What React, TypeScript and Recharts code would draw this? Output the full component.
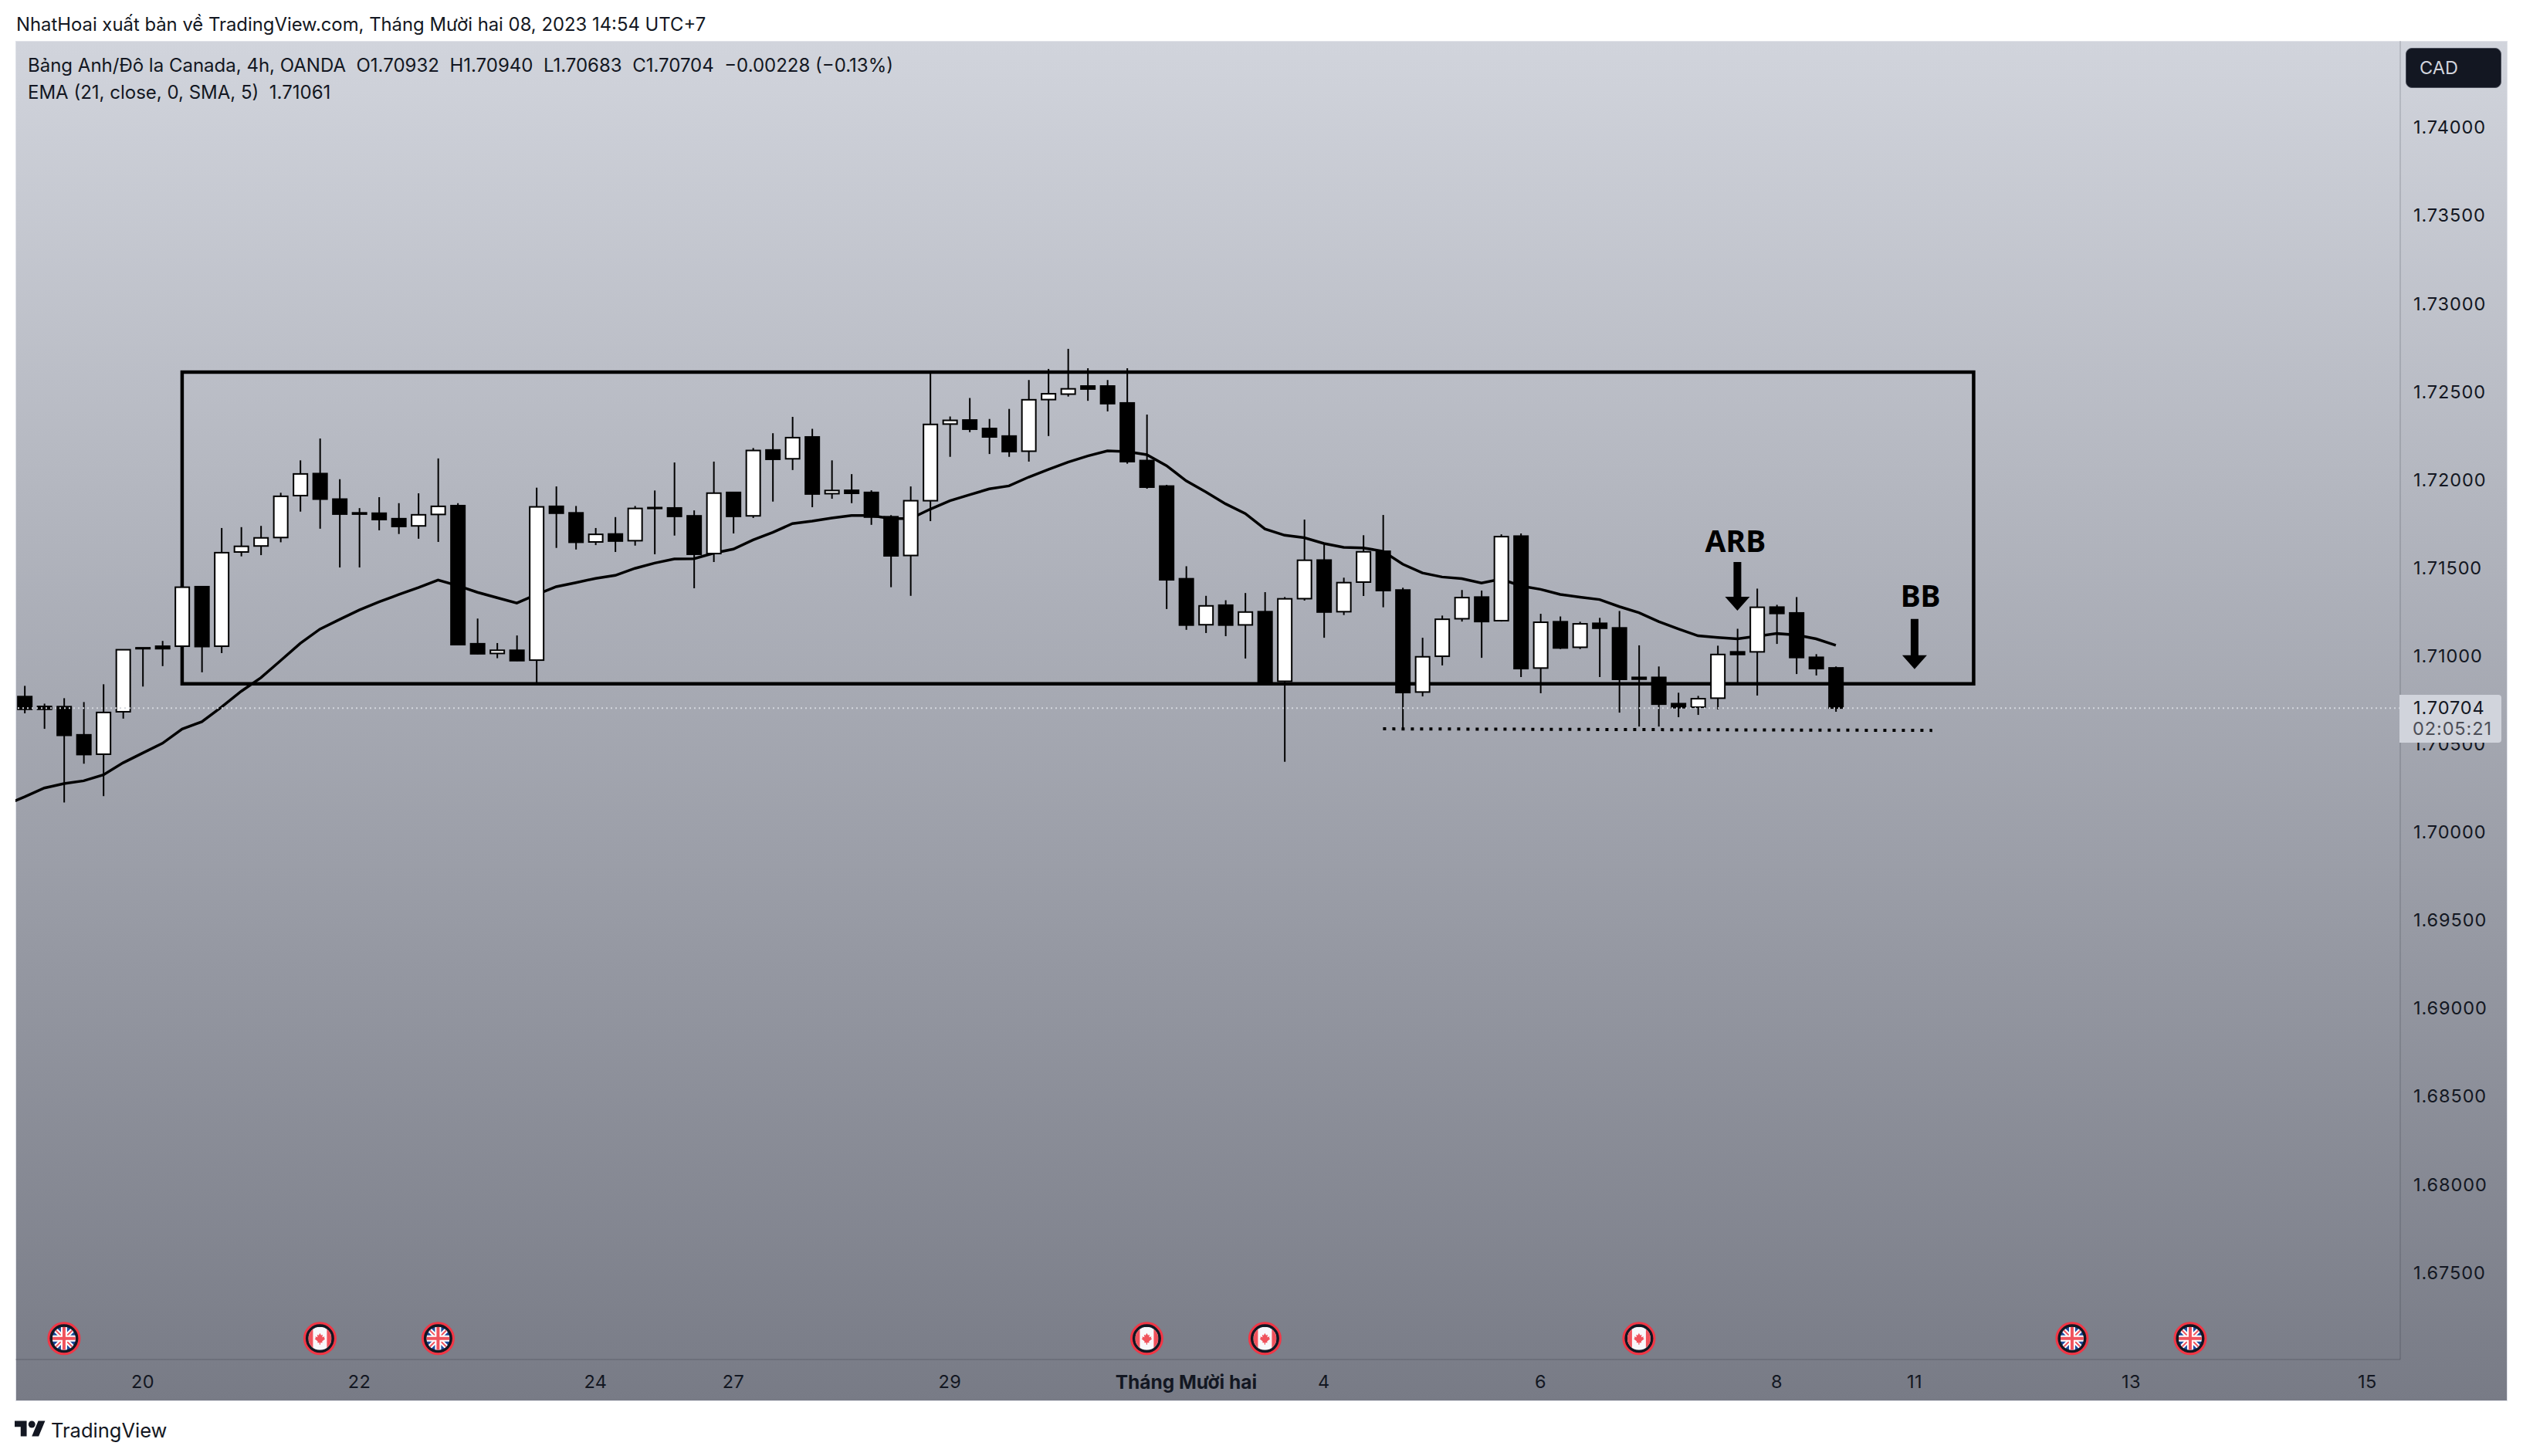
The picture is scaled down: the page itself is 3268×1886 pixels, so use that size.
import React from 'react'
import {
  ComposedChart, Bar, Line, XAxis, YAxis, ReferenceArea, ReferenceLine, ReferenceDot,
} from 'recharts'

const FONT = 'Inter, "Noto Sans", sans-serif'
const INK = '#131722'
const RULE = 'rgba(19,23,34,0.13)'

const opens = [
  1.70769, 1.70713, 1.70712, 1.70552, 1.70442, 1.70683, 1.71046, 1.71055, 1.71055, 1.71393,
  1.71055, 1.71590, 1.71624, 1.71672, 1.71910, 1.72035, 1.71890, 1.71812, 1.71810, 1.71779,
  1.71738, 1.71803, 1.71853, 1.71069, 1.71014, 1.71032, 1.70976, 1.71849, 1.71812, 1.71647,
  1.71692, 1.71654, 1.71842, 1.71840, 1.71795, 1.71581, 1.71928, 1.71795, 1.72169, 1.72119,
  1.72243, 1.71921, 1.71940, 1.71928, 1.71790, 1.71570, 1.71881, 1.72316, 1.72339, 1.72291,
  1.72248, 1.72162, 1.72455, 1.72486, 1.72532, 1.72532, 1.72436, 1.72109, 1.71964, 1.71438,
  1.71177, 1.71288, 1.71176, 1.71251, 1.70856, 1.71325, 1.71544, 1.71251, 1.71419, 1.71594,
  1.71374, 1.70795, 1.70998, 1.71211, 1.71334, 1.71200, 1.71680, 1.70931, 1.71194, 1.71049,
  1.71185, 1.71159, 1.70878, 1.70878, 1.70729, 1.70709, 1.70760, 1.71023, 1.71023, 1.71277,
  1.71244, 1.70992, 1.70932,
]
const highs = [
  1.70830, 1.70729, 1.70760, 1.70738, 1.70839, 1.71037, 1.71046, 1.71085, 1.71391, 1.71393,
  1.71726, 1.71731, 1.71738, 1.71926, 1.72110, 1.72234, 1.72003, 1.71839, 1.71901, 1.71867,
  1.71923, 1.72121, 1.71867, 1.71212, 1.71073, 1.71116, 1.71955, 1.71962, 1.71851, 1.71726,
  1.71788, 1.71851, 1.71939, 1.72098, 1.71826, 1.72103, 1.71930, 1.72180, 1.72264, 1.72357,
  1.72289, 1.72110, 1.72032, 1.71940, 1.71799, 1.71962, 1.72615, 1.72359, 1.72464, 1.72345,
  1.72402, 1.72566, 1.72629, 1.72743, 1.72633, 1.72566, 1.72633, 1.72370, 1.71971, 1.71509,
  1.71341, 1.71316, 1.71357, 1.71362, 1.71334, 1.71774, 1.71633, 1.71444, 1.71685, 1.71800,
  1.71387, 1.71103, 1.71229, 1.71374, 1.71371, 1.71690, 1.71695, 1.71239, 1.71224, 1.71194,
  1.71216, 1.71255, 1.71060, 1.70940, 1.70791, 1.70773, 1.71058, 1.71154, 1.71382, 1.71290,
  1.71334, 1.71010, 1.70940,
]
const lows = [
  1.70674, 1.70586, 1.70168, 1.70388, 1.70204, 1.70644, 1.70826, 1.70942, 1.70844, 1.70907,
  1.71016, 1.71565, 1.71572, 1.71645, 1.71819, 1.71722, 1.71502, 1.71502, 1.71713, 1.71692,
  1.71665, 1.71647, 1.71060, 1.71010, 1.70987, 1.70971, 1.70848, 1.71613, 1.71604, 1.71629,
  1.71590, 1.71626, 1.71577, 1.71683, 1.71384, 1.71533, 1.71695, 1.71783, 1.71876, 1.72055,
  1.71844, 1.71892, 1.71867, 1.71744, 1.71390, 1.71341, 1.71765, 1.72130, 1.72270, 1.72146,
  1.72130, 1.72103, 1.72248, 1.72472, 1.72448, 1.72388, 1.72091, 1.71949, 1.71266, 1.71148,
  1.71130, 1.71112, 1.70985, 1.70848, 1.70399, 1.71314, 1.71103, 1.71232, 1.71340, 1.71276,
  1.70589, 1.70770, 1.70946, 1.71195, 1.70989, 1.71195, 1.70880, 1.70788, 1.71039, 1.71039,
  1.70880, 1.70678, 1.70599, 1.70599, 1.70652, 1.70665, 1.70696, 1.70845, 1.70775, 1.71068,
  1.70897, 1.70889, 1.70683,
]
const closes = [
  1.70697, 1.70697, 1.70549, 1.70440, 1.70679, 1.71035, 1.71041, 1.71041, 1.71390, 1.71053,
  1.71586, 1.71622, 1.71670, 1.71906, 1.72033, 1.71890, 1.71805, 1.71805, 1.71774, 1.71735,
  1.71801, 1.71849, 1.71064, 1.71012, 1.71032, 1.70973, 1.71846, 1.71810, 1.71645, 1.71690,
  1.71652, 1.71837, 1.71837, 1.71792, 1.71577, 1.71924, 1.71792, 1.72166, 1.72116, 1.72239,
  1.71919, 1.71939, 1.71923, 1.71788, 1.71568, 1.71881, 1.72314, 1.72337, 1.72287, 1.72243,
  1.72160, 1.72454, 1.72488, 1.72516, 1.72515, 1.72432, 1.72103, 1.71958, 1.71432, 1.71175,
  1.71284, 1.71175, 1.71249, 1.70853, 1.71324, 1.71543, 1.71249, 1.71416, 1.71591, 1.71371,
  1.70792, 1.70995, 1.71208, 1.71331, 1.71195, 1.71677, 1.70928, 1.71191, 1.71045, 1.71182,
  1.71157, 1.70867, 1.70868, 1.70726, 1.70706, 1.70757, 1.71008, 1.71008, 1.71276, 1.71241,
  1.70991, 1.70928, 1.70704,
]
// one reading more than the candles: the line comes in from off the left edge
const emaValues = [
  1.70154,
  1.70200, 1.70250, 1.70275, 1.70291, 1.70325, 1.70393, 1.70449, 1.70504, 1.70585, 1.70626,
  1.70710, 1.70799, 1.70876, 1.70973, 1.71071, 1.71152, 1.71207, 1.71261, 1.71307, 1.71348,
  1.71388, 1.71431, 1.71399, 1.71361, 1.71330, 1.71300, 1.71348, 1.71393, 1.71416, 1.71440,
  1.71457, 1.71497, 1.71527, 1.71550, 1.71552, 1.71583, 1.71606, 1.71658, 1.71701, 1.71751,
  1.71765, 1.71783, 1.71797, 1.71797, 1.71779, 1.71779, 1.71833, 1.71881, 1.71915, 1.71948,
  1.71965, 1.72015, 1.72058, 1.72100, 1.72135, 1.72164, 1.72160, 1.72142, 1.72080, 1.71994,
  1.71931, 1.71863, 1.71808, 1.71721, 1.71685, 1.71671, 1.71638, 1.71616, 1.71613, 1.71594,
  1.71521, 1.71471, 1.71448, 1.71439, 1.71414, 1.71436, 1.71397, 1.71378, 1.71349, 1.71334,
  1.71320, 1.71280, 1.71245, 1.71195, 1.71153, 1.71114, 1.71105, 1.71097, 1.71112, 1.71127,
  1.71119, 1.71097, 1.71060,
]

const priceTicks = [
  1.675, 1.68, 1.685, 1.69, 1.695, 1.7, 1.705, 1.71, 1.715, 1.72, 1.725, 1.73, 1.735, 1.74,
]
const timeTicks = [6, 17, 29, 36, 47, 59, 66, 77, 89, 96, 107, 119]
const timeLabels = ['20', '22', '24', '27', '29', 'Tháng Mười hai', '4', '6', '8', '11', '13', '15']

const eventBars = [2, 15, 21, 57, 63, 82, 104, 110]
const eventKinds = ['uk', 'ca', 'uk', 'ca', 'ca', 'ca', 'uk', 'uk']

const lastPrice = 1.70704

const rows = emaValues.map((ema, k) => ({
  i: k - 1,
  ema,
  open: opens[k - 1],
  high: highs[k - 1],
  low: lows[k - 1],
  close: closes[k - 1],
}))

const Candle = (props: any) => {
  const { x, y, width, height, payload } = props
  if (payload.high == null || !height) return null
  const k = height / (payload.high - payload.low)
  const up = payload.close >= payload.open
  const top = y + (payload.high - Math.max(payload.open, payload.close)) * k
  const bot = y + (payload.high - Math.min(payload.open, payload.close)) * k
  const cx = x + width / 2
  return (
    <g>
      <line x1={cx} x2={cx} y1={y} y2={y + height} stroke="#000" strokeWidth={2} />
      {up ? (
        <rect x={x + 1} y={top} width={width - 2} height={Math.max(bot - top, 3)} fill="#fff" stroke="#000" strokeWidth={2} />
      ) : (
        <rect x={x} y={top - 1} width={width} height={Math.max(bot - top + 2, 3)} fill="#000" />
      )}
    </g>
  )
}

const TimeTick = (props: any) => {
  const { x, y, payload } = props
  const label = timeLabels[timeTicks.indexOf(payload.value)]
  const month = label && label.length > 2
  return (
    <text x={x} y={y + 29} dy="0.35em" textAnchor="middle" fontFamily={FONT} fontSize={month ? 24.5 : 23.5}
      fontWeight={month ? 700 : 400} fill={INK} letterSpacing={month ? 0 : 0.4}>
      {label}
    </text>
  )
}

const Flag = ({ cx, cy, kind, id }: any) => (
  <g>
    <clipPath id={id}><circle cx={cx} cy={cy} r={15} /></clipPath>
    <circle cx={cx} cy={cy} r={20} fill={INK} stroke="#f23645" strokeWidth={3} />
    {kind === 'uk' ? (
      <g clipPath={`url(#${id})`}>
        <rect x={cx - 15} y={cy - 15} width={30} height={30} fill="#1d4a9c" />
        <path d={`M${cx - 15} ${cy - 15}L${cx + 15} ${cy + 15}M${cx + 15} ${cy - 15}L${cx - 15} ${cy + 15}`} stroke="#fff" strokeWidth={6} />
        <path d={`M${cx - 15} ${cy - 15}L${cx + 15} ${cy + 15}M${cx + 15} ${cy - 15}L${cx - 15} ${cy + 15}`} stroke="#f0525c" strokeWidth={2} />
        <path d={`M${cx} ${cy - 15}V${cy + 15}M${cx - 15} ${cy}H${cx + 15}`} stroke="#fff" strokeWidth={8} />
        <path d={`M${cx} ${cy - 15}V${cy + 15}M${cx - 15} ${cy}H${cx + 15}`} stroke="#f0525c" strokeWidth={4} />
      </g>
    ) : (
      <g clipPath={`url(#${id})`}>
        <rect x={cx - 15} y={cy - 15} width={30} height={30} fill="#f8f8fb" />
        <rect x={cx - 15} y={cy - 15} width={6} height={30} fill="#f0525c" />
        <rect x={cx + 9} y={cy - 15} width={6} height={30} fill="#f0525c" />
        <path d={`M${cx} ${cy - 7}l1.6 3 2-1-.6 3.5 3-1 -.6 2 1.4.8-4 3.4.4 1.8h-2.6v2.5h-1.2v-2.5h-2.6l.4-1.8-4-3.4 1.4-.8-.6-2 3 1-.6-3.5 2 1z`} fill="#f0525c" />
      </g>
    )}
  </g>
)

const DownArrow = ({ cx, cy, length, headLength }: any) => {
  const tip = cy + length
  const neck = tip - headLength
  return (
    <path
      d={`M${cx - 5} ${cy}H${cx + 5}V${neck}H${cx + 16}L${cx} ${tip}L${cx - 16} ${neck}H${cx - 5}Z`}
      fill="#000"
    />
  )
}

const Note = ({ cx, cy, label }: any) => (
  <text x={cx} y={cy} textAnchor="middle" fontFamily='"Noto Sans", sans-serif' fontWeight={700} fontSize={39} fill="#000">
    {label}
  </text>
)

const abs = (left: number, top: number, extra: any = {}): React.CSSProperties => ({
  position: 'absolute', left, top, fontFamily: FONT, color: INK, whiteSpace: 'nowrap', ...extra,
})

export default function App() {
  return (
    <div style={{ position: 'absolute', left: 0, top: 0, width: 3268, height: 1886, background: '#fff', overflow: 'hidden' }}>
      <div style={abs(21, 16, { fontSize: 23.85, lineHeight: '32px' })}>
        NhatHoai xuất bản về TradingView.com, Tháng Mười hai 08, 2023 14:54 UTC+7
      </div>

      <div style={{
        position: 'absolute', left: 20, top: 53, width: 3228, height: 1762, boxSizing: 'border-box',
        border: '1px solid #dfe1e8', background: 'linear-gradient(#d1d4dc, #787b86)',
      }} />

      <div style={{ position: 'absolute', left: 0, top: 0 }}>
        <ComposedChart width={3268} height={1886} data={rows} margin={{ top: 53, right: 20, bottom: 71, left: 20 }}>
          <XAxis
            dataKey="i" type="number" domain={[-0.467, 120.67]} allowDataOverflow
            ticks={timeTicks} interval={0} tick={<TimeTick />} height={54}
            tickLine={false} tickSize={0} tickMargin={0} axisLine={{ stroke: RULE, strokeWidth: 2 }}
          />
          <YAxis
            orientation="right" domain={[1.67006, 1.74491]} allowDataOverflow width={139}
            ticks={priceTicks} interval={0} tickFormatter={(v) => v.toFixed(5)}
            tick={{ fontSize: 23.5, fill: INK, fontFamily: FONT, letterSpacing: 0.9 }}
            tickLine={false} tickSize={0} tickMargin={17} axisLine={{ stroke: RULE, strokeWidth: 2 }}
          />
          <ReferenceArea x1={8} x2={99} y1={1.70842} y2={1.72611} fill="none" fillOpacity={0} stroke="#000" strokeWidth={4.5} />
          <Line dataKey="ema" type="linear" stroke="#000" strokeWidth={3.5} dot={false} isAnimationActive={false} zIndex={250} />
          <Bar
            dataKey={(d: any) => (d.high == null ? null : [d.low, d.high])}
            barSize={20} shape={<Candle />} isAnimationActive={false}
          />
          <ReferenceLine y={lastPrice} stroke="#d4d6dd" strokeWidth={2} strokeDasharray="2 4" />
          <ReferenceLine
            segment={[{ x: 69, y: 1.70586 }, { x: 96.9, y: 1.70577 }]}
            stroke="#000" strokeWidth={4} strokeDasharray="4 8"
          />
          <ReferenceDot x={87} y={1.71533} shape={(p: any) => <DownArrow cx={p.cx} cy={p.cy} length={63} headLength={18} />} />
          <ReferenceDot x={96} y={1.7121} shape={(p: any) => <DownArrow cx={p.cx} cy={p.cy} length={65} headLength={18} />} />
          <ReferenceDot x={86.9} y={1.7159} shape={(p: any) => <Note cx={p.cx} cy={p.cy} label="ARB" />} />
          <ReferenceDot x={96.3} y={1.7128} shape={(p: any) => <Note cx={p.cx} cy={p.cy} label="BB" />} />
          {eventBars.map((bar, n) => (
            <ReferenceDot
              key={bar} x={bar} y={1.67125}
              shape={(p: any) => <Flag cx={p.cx} cy={p.cy} kind={eventKinds[n]} id={`flag-${n}`} />}
            />
          ))}
        </ComposedChart>
      </div>

      <div style={abs(36, 69, { fontSize: 24, lineHeight: '32px' })}>
        Bảng Anh/Đô la Canada, 4h, OANDA&nbsp; O1.70932&nbsp; H1.70940&nbsp; L1.70683&nbsp; C1.70704&nbsp; −0.00228 (−0.13%)
      </div>
      <div style={abs(36, 104, { fontSize: 24, lineHeight: '32px' })}>
        EMA (21, close, 0, SMA, 5)&nbsp; 1.71061
      </div>

      <div style={abs(3116, 62, {
        width: 124, height: 52, boxSizing: 'border-box', background: INK, border: '1px solid #4a4e5a',
        borderRadius: 8, color: '#d1d4dc', fontSize: 23.5, lineHeight: '50px', paddingLeft: 17,
      })}>
        CAD
      </div>

      <div style={abs(3108, 900, {
        width: 132, height: 62, background: '#d1d4dc', borderRadius: '0 4px 4px 0',
      })}>
        <div style={abs(18, 3, { fontSize: 23.5, lineHeight: '28px', color: '#131722', letterSpacing: 0.9 })}>1.70704</div>
        <div style={abs(17, 30, { fontSize: 23.5, lineHeight: '28px', color: '#4c4e57', letterSpacing: 0.9 })}>02:05:21</div>
      </div>

      <svg style={{ position: 'absolute', left: 19, top: 1836 }} width={40} height={28} viewBox="0 0 36 25">
        <path d="M14 22H7V11H0V4h14v18zM28 22h-8l7.5-18h8L28 22z" fill={INK} />
        <circle cx={20} cy={8} r={4} fill={INK} />
      </svg>
      <div style={abs(66, 1837, { fontSize: 25.5, lineHeight: '32px' })}>TradingView</div>
    </div>
  )
}
